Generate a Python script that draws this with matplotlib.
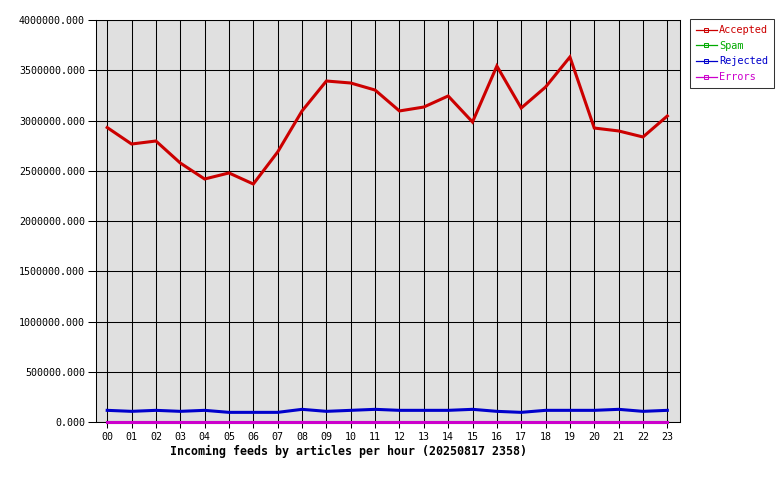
import matplotlib
matplotlib.use("Agg")
from matplotlib import pyplot as plt
from matplotlib.ticker import FuncFormatter

# hourly incoming feed counts
hours = ["%02d" % h for h in range(24)]
accepted = [2930000, 2766000, 2796000, 2577000, 2418000, 2478000, 2368000, 2687000,
            3095000, 3393000, 3373000, 3303000, 3095000, 3134000, 3244000, 2985000,
            3542000, 3124000, 3333000, 3632000, 2925000, 2896000, 2836000, 3045000]
spam = [0] * 24
rejected = [116000, 106000, 116000, 106000, 116000, 96000, 96000, 96000,
            126000, 106000, 116000, 126000, 116000, 116000, 116000, 126000,
            106000, 96000, 116000, 116000, 116000, 126000, 106000, 116000]
errors = [0] * 24

series = [("Accepted", accepted, "#cc0000"),
          ("Spam", spam, "#00aa00"),
          ("Rejected", rejected, "#0000cc"),
          ("Errors", errors, "#cc00cc")]

plt.rcParams["font.family"] = "DejaVu Sans Mono"
plt.rcParams["font.size"] = 7.2

fig = plt.figure(figsize=(7.8, 4.8), dpi=100)
ax = fig.add_axes([96 / 780, 58 / 480, 584 / 780, 402 / 480])
ax.set_facecolor("#e0e0e0")

x = list(range(24))
for name, vals, col in series:
    ax.plot(x, vals, color=col, lw=2.2, solid_joinstyle="miter", label=name,
            clip_on=False, zorder=3)

ax.set_xlim(-0.46, 23.52)
ax.set_ylim(0, 4000000)
ax.set_xticks(x)
ax.set_xticklabels(hours)
ax.set_yticks(range(0, 4000001, 500000))
ax.yaxis.set_major_formatter(FuncFormatter(lambda v, p: "%.3f" % v))
ax.grid(True, color="black", lw=0.75)
ax.set_axisbelow(True)
ax.tick_params(axis="y", length=6, width=0.75, pad=2)
ax.tick_params(axis="x", length=4, width=0.75, pad=3)
for s in ax.spines.values():
    s.set_linewidth(0.75)
    s.set_zorder(1)

fig.text(349 / 780, 1 - 451 / 480, "Incoming feeds by articles per hour (20250817 2358)",
         ha="center", va="center", fontweight="bold", fontsize=8.4)

# legend box on the right
handles = [plt.Line2D([0], [0], color=c, lw=0.9, marker="s", markersize=3,
                      markerfacecolor="none", markeredgewidth=0.7) for _, _, c in series]
leg = fig.legend(handles, [s[0] for s in series], loc="upper left",
                 bbox_to_anchor=(690 / 780, 1 - 19 / 480), frameon=True,
                 fancybox=False, edgecolor="black", handlelength=2.0,
                 handletextpad=0.2, borderpad=0.6, labelspacing=0.55,
                 borderaxespad=0, fontsize=7.4)
leg.get_frame().set_linewidth(0.75)
for t, (_, _, c) in zip(leg.get_texts(), series):
    t.set_color(c)

fig.savefig("out.png", dpi=100)
